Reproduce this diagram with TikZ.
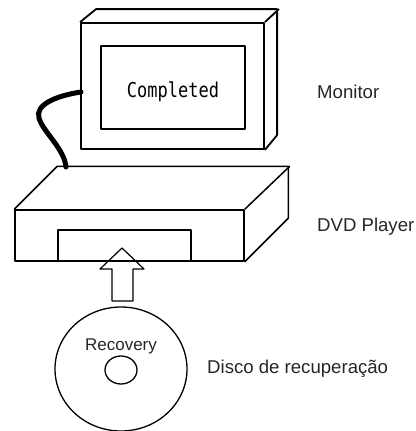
\documentclass[tikz,border=0pt]{standalone}
\usepackage{fontspec}
\setmainfont{Liberation Sans}
\newfontfamily\screenfont{DejaVu Sans Mono}
\usetikzlibrary{shapes.geometric}
\begin{document}
\begin{tikzpicture}[x=1pt, y=-1pt, line join=round, inner sep=0pt,
		boxstyle/.style={draw, line width=1.8pt},
		thinstyle/.style={draw, line width=1.3pt},
		cablestyle/.style={line width=5pt, line cap=round},
		labelstyle/.style={anchor=base west, font=\fontsize{18.6}{20}\selectfont, text=black!85}]
		\useasboundingbox (0,0) rectangle (415,431);

		% monitor
		\node [boxstyle, minimum width=183pt, minimum height=126pt] (monitor) at (172.5,86) {};
		\draw [boxstyle] (monitor.north west) -- ++(16,-13) -- ++(181,0) -- ++(0,126) -- (monitor.south east);
		\draw [boxstyle] (monitor.north east) -- ++(14,-13);
		\node [boxstyle, minimum width=144pt, minimum height=83pt] (screen) at (173,87.5) {};
		\node [anchor=base, xscale=0.83, font=\screenfont\fontsize{20.5}{22}\selectfont] (msg) at (173,97) {Completed};

		% dvd player
		\node [boxstyle, line width=1.5pt, minimum width=229pt, minimum height=51pt] (player) at (129.5,235.5) {};
		\draw [boxstyle, line width=1.5pt] (player.north west) -- ++(43,-43) -- ++(231,0) -- ++(0,52) -- (player.south east);
		\draw [boxstyle, line width=1.5pt] (player.north east) -- ++(45,-43);
		\draw [thinstyle] (58,261) -- (58,230) -- (191,230) -- (191,261);

		% cable
		\coordinate (plug) at (81,92);
		\coordinate (jack) at (66,167);
		\draw [cablestyle] (plug) .. controls (55,96) and (35,105) .. (39,118)
			.. controls (43,132) and (64,148) .. (jack);

		% disc
		\node [thinstyle, ellipse, minimum width=132pt, minimum height=124pt] (disc) at (121,369) {};
		\node [thinstyle, ellipse, minimum width=32pt, minimum height=28pt] (hole) at (121,370) {};
		\node [anchor=base, font=\fontsize{17}{19}\selectfont, text=black!85] (name) at (121,350) {Recovery};

		% insert arrow
		\draw [thinstyle, line width=1.2pt] (122,248) -- (144,269) -- (133,269) -- (133,301)
			-- (112,301) -- (112,269) -- (100,269) -- cycle;

		% labels
		\node [labelstyle] (lmonitor) at (317,98) {Monitor};
		\node [labelstyle] (lplayer) at (317,231) {DVD Player};
		\node [labelstyle] (ldisc) at (207,373) {Disco de recuperação};
		\end{tikzpicture}
\end{document}
